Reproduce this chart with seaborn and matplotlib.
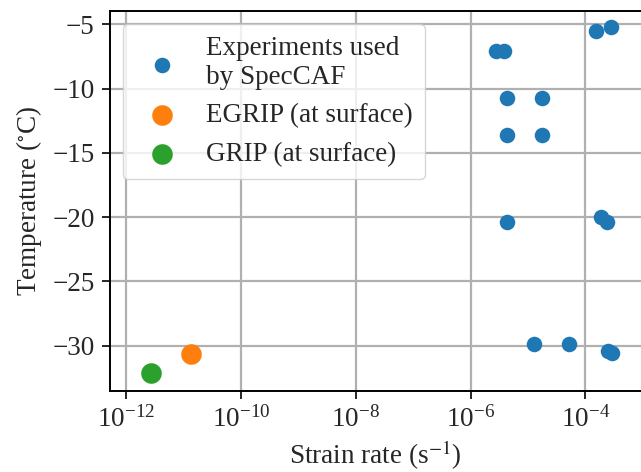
import numpy as np
import pandas as pd
import matplotlib
matplotlib.use("Agg")
import matplotlib.pyplot as plt
import seaborn as sns

# strain rates (s^-1) and temperatures (deg C)
specaf_rate = [10**-3.81, 10**-3.55, 10**-5.55, 10**-5.42, 10**-5.37, 10**-4.75,
               10**-5.37, 10**-4.75, 10**-5.37, 10**-3.73, 10**-3.62,
               10**-4.89, 10**-4.29, 10**-3.61, 10**-3.53]
specaf_temp = [-5.5, -5.25, -7.05, -7.05, -10.7, -10.7,
               -13.6, -13.6, -20.4, -20.0, -20.35,
               -29.9, -29.9, -30.4, -30.55]
egrip_rate = [10**-10.87]
egrip_temp = [-30.65]
grip_rate = [10**-11.57]
grip_temp = [-32.15]

labels = ["Experiments used\nby SpecCAF", "EGRIP (at surface)", "GRIP (at surface)"]
colors = ["#1f77b4", "#ff7f0e", "#2ca02c"]

sns.set_style("ticks")
plt.rcParams["font.family"] = ["Liberation Serif", "DejaVu Serif"]
plt.rcParams["mathtext.fontset"] = "stix"
fs = 19.5

fig = plt.figure(figsize=(6.41, 4.72), dpi=100)
ax = fig.add_axes([0.1716, 0.1716, 0.8284, 0.8051])

sns.scatterplot(x=specaf_rate, y=specaf_temp, color=colors[0], s=125, linewidth=0,
                label=labels[0], ax=ax, zorder=3)
sns.scatterplot(x=egrip_rate, y=egrip_temp, color=colors[1], s=220, linewidth=0,
                label=labels[1], ax=ax, zorder=3)
sns.scatterplot(x=grip_rate, y=grip_temp, color=colors[2], s=220, linewidth=0,
                label=labels[2], ax=ax, zorder=3)

ax.set_xscale("log")
ax.set_xlim(10**-12.28, 10**-3.03)
ax.set_ylim(-33.52, -3.97)
ax.set_xticks([1e-12, 1e-10, 1e-8, 1e-6, 1e-4])
ax.xaxis.set_minor_locator(matplotlib.ticker.NullLocator())
ax.set_yticks([-5, -10, -15, -20, -25, -30])

ax.grid(True, color="#b0b0b0", linewidth=1.6)
ax.set_axisbelow(True)
for side in ["left", "bottom", "top"]:
    ax.spines[side].set_linewidth(1.4)
    ax.spines[side].set_color("black")
ax.spines["right"].set_visible(False)
ax.tick_params(length=6, width=1.4, labelsize=fs, pad=5)

ax.set_xlabel("Strain rate (s$^{-1}$)", fontsize=fs, labelpad=4)
ax.set_ylabel("Temperature ($^{\\circ}$C)", fontsize=fs, labelpad=6)

ax.legend(loc="upper left", bbox_to_anchor=(0.0245, 0.966), borderaxespad=0,
          fontsize=fs, framealpha=0.8, edgecolor="#cccccc", labelspacing=0.5,
          handletextpad=0.6, borderpad=0.45, handlelength=2.0)

fig.savefig("out.png", dpi=100)
